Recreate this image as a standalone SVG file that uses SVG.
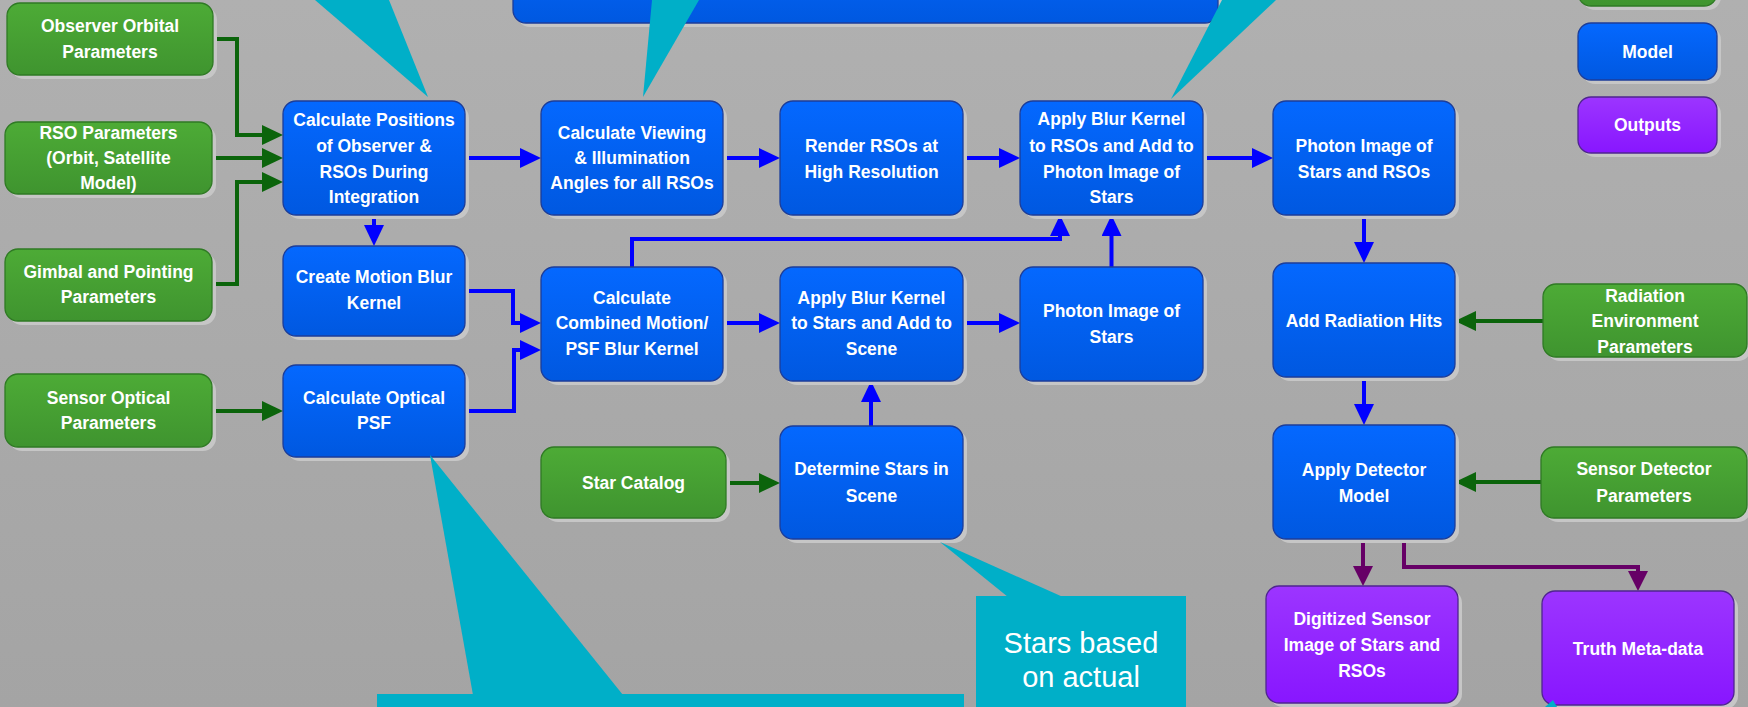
<svg xmlns="http://www.w3.org/2000/svg" width="1748" height="707" viewBox="0 0 1748 707">
<defs>
<linearGradient id="bg" x1="0" y1="0" x2="0" y2="1"><stop offset="0" stop-color="#b0b0b0"/><stop offset="1" stop-color="#a4a4a4"/></linearGradient>
<linearGradient id="gBlue" x1="0" y1="0" x2="0" y2="1"><stop offset="0" stop-color="#0468ff"/><stop offset="1" stop-color="#0058e0"/></linearGradient>
<linearGradient id="gGreen" x1="0" y1="0" x2="0" y2="1"><stop offset="0" stop-color="#4dab36"/><stop offset="1" stop-color="#3f942f"/></linearGradient>
<linearGradient id="gPurple" x1="0" y1="0" x2="0" y2="1"><stop offset="0" stop-color="#9c35ff"/><stop offset="1" stop-color="#8816ff"/></linearGradient>
<marker id="aB" viewBox="0 0 21 20" markerWidth="21" markerHeight="20" refX="13" refY="10" orient="auto" markerUnits="userSpaceOnUse"><path d="M0,0 L21,10 L0,20 z" fill="#0000ff"/></marker>
<marker id="aG" viewBox="0 0 21 20" markerWidth="21" markerHeight="20" refX="13" refY="10" orient="auto" markerUnits="userSpaceOnUse"><path d="M0,0 L21,10 L0,20 z" fill="#0b640b"/></marker>
<marker id="aP" viewBox="0 0 20 20" markerWidth="20" markerHeight="20" refX="12" refY="10" orient="auto" markerUnits="userSpaceOnUse"><path d="M0,0 L20,10 L0,20 z" fill="#660066"/></marker>
</defs>
<style>
.sh{fill:#c6c6c6}
.blue{fill:url(#gBlue);stroke:#1c3d99;stroke-width:1.3}
.green{fill:url(#gGreen);stroke:#2f7a24;stroke-width:1.3}
.purple{fill:url(#gPurple);stroke:#4f2590;stroke-width:1.3}
.t{font-family:"Liberation Sans",Arial,sans-serif;font-weight:bold;font-size:17.5px;fill:#ffffff;text-anchor:middle}
.ct{font-family:"Liberation Sans",Arial,sans-serif;font-size:29px;fill:#ffffff;text-anchor:middle}
.cB{fill:none;stroke:#0000ff;stroke-width:4;marker-end:url(#aB)}
.cG{fill:none;stroke:#0b640b;stroke-width:4;marker-end:url(#aG)}
.cP{fill:none;stroke:#660066;stroke-width:4;marker-end:url(#aP)}
.call{fill:#00afc8}
</style>
<rect x="0" y="0" width="1748" height="707" fill="url(#bg)"/>

<!-- top off-screen box -->
<g id="top-model-box">
<rect class="sh" x="517" y="-60" width="705" height="87" rx="13"/>
<rect class="blue" x="513" y="-60" width="705" height="83" rx="13"/>
</g>
<g id="legend-inputs">
<rect class="sh" x="1582" y="-60" width="139" height="70" rx="13"/>
<rect class="green" x="1578" y="-60" width="139" height="66" rx="13"/>
</g>
<g id="legend-model">
<rect class="sh" x="1582" y="27" width="139" height="57" rx="13"/>
<rect class="blue" x="1578" y="23" width="139" height="57" rx="13"/>
<text class="t" x="1647.5" y="58">Model</text>
</g>
<g id="legend-outputs">
<rect class="sh" x="1582" y="101" width="139" height="56" rx="13"/>
<rect class="purple" x="1578" y="97" width="139" height="56" rx="13"/>
<text class="t" x="1647.5" y="131">Outputs</text>
</g>

<g id="connectors">
<path class="cB" d="M465,158 H533"/>
<path class="cB" d="M723,158 H772"/>
<path class="cB" d="M963,158 H1012"/>
<path class="cB" d="M1203,158 H1265"/>
<path class="cB" d="M374,215 V238"/>
<path class="cB" d="M465,291 H513 V323 H533"/>
<path class="cB" d="M465,411 H514 V350 H533"/>
<path class="cB" d="M723,323 H772"/>
<path class="cB" d="M963,323 H1012"/>
<path class="cB" d="M1111.5,267 V223"/>
<path class="cB" d="M632,267 V239 H1060 V223"/>
<path class="cB" d="M871,426 V389"/>
<path class="cB" d="M1364,215 V255"/>
<path class="cB" d="M1364,377 V417"/>
<path class="cG" d="M213,39 H237 V135 H275"/>
<path class="cG" d="M212,158 H275"/>
<path class="cG" d="M212,284 H237 V182 H275"/>
<path class="cG" d="M212,411 H275"/>
<path class="cG" d="M726,483 H772"/>
<path class="cG" d="M1543,321 H1463"/>
<path class="cG" d="M1541,482 H1463"/>
<path class="cP" d="M1363,539 V578"/>
<path class="cP" d="M1404,539 V567 H1638 V583"/>
</g>

<g id="obs-orbital">
<rect class="sh" x="11" y="7" width="206" height="72" rx="13"/>
<rect class="green" x="7" y="3" width="206" height="72" rx="13"/>
<text class="t" x="110" y="32">Observer Orbital</text>
<text class="t" x="110" y="58">Parameters</text>
</g>
<g id="rso-params">
<rect class="sh" x="9" y="126" width="207" height="72" rx="13"/>
<rect class="green" x="5" y="122" width="207" height="72" rx="13"/>
<text class="t" x="108.5" y="139">RSO Parameters</text>
<text class="t" x="108.5" y="164">(Orbit, Satellite</text>
<text class="t" x="108.5" y="189">Model)</text>
</g>
<g id="gimbal">
<rect class="sh" x="9" y="253" width="207" height="72" rx="13"/>
<rect class="green" x="5" y="249" width="207" height="72" rx="13"/>
<text class="t" x="108.5" y="278">Gimbal and Pointing</text>
<text class="t" x="108.5" y="303">Parameters</text>
</g>
<g id="sensor-optical">
<rect class="sh" x="9" y="378" width="207" height="73" rx="13"/>
<rect class="green" x="5" y="374" width="207" height="73" rx="13"/>
<text class="t" x="108.5" y="404">Sensor Optical</text>
<text class="t" x="108.5" y="429">Parameters</text>
</g>
<g id="star-catalog">
<rect class="sh" x="545" y="451" width="185" height="71" rx="13"/>
<rect class="green" x="541" y="447" width="185" height="71" rx="13"/>
<text class="t" x="633.5" y="489">Star Catalog</text>
</g>
<g id="radiation-env">
<rect class="sh" x="1547" y="288" width="204" height="73" rx="13"/>
<rect class="green" x="1543" y="284" width="204" height="73" rx="13"/>
<text class="t" x="1645" y="302">Radiation</text>
<text class="t" x="1645" y="327">Environment</text>
<text class="t" x="1645" y="353">Parameters</text>
</g>
<g id="sensor-detector">
<rect class="sh" x="1545" y="451" width="206" height="71" rx="13"/>
<rect class="green" x="1541" y="447" width="206" height="71" rx="13"/>
<text class="t" x="1644" y="475">Sensor Detector</text>
<text class="t" x="1644" y="502">Parameters</text>
</g>

<g id="calc-positions">
<rect class="sh" x="287" y="105" width="182" height="114" rx="13"/>
<rect class="blue" x="283" y="101" width="182" height="114" rx="13"/>
<text class="t" x="374" y="126">Calculate Positions</text>
<text class="t" x="374" y="152">of Observer &amp;</text>
<text class="t" x="374" y="178">RSOs During</text>
<text class="t" x="374" y="203">Integration</text>
</g>
<g id="motion-blur">
<rect class="sh" x="287" y="250" width="182" height="90" rx="13"/>
<rect class="blue" x="283" y="246" width="182" height="90" rx="13"/>
<text class="t" x="374" y="283">Create Motion Blur</text>
<text class="t" x="374" y="309">Kernel</text>
</g>
<g id="optical-psf">
<rect class="sh" x="287" y="369" width="182" height="92" rx="13"/>
<rect class="blue" x="283" y="365" width="182" height="92" rx="13"/>
<text class="t" x="374" y="404">Calculate Optical</text>
<text class="t" x="374" y="429">PSF</text>
</g>
<g id="calc-viewing">
<rect class="sh" x="545" y="105" width="182" height="114" rx="13"/>
<rect class="blue" x="541" y="101" width="182" height="114" rx="13"/>
<text class="t" x="632" y="139">Calculate Viewing</text>
<text class="t" x="632" y="164">&amp; Illumination</text>
<text class="t" x="632" y="189">Angles for all RSOs</text>
</g>
<g id="render-rsos">
<rect class="sh" x="784" y="105" width="183" height="114" rx="13"/>
<rect class="blue" x="780" y="101" width="183" height="114" rx="13"/>
<text class="t" x="871.5" y="152">Render RSOs at</text>
<text class="t" x="871.5" y="178">High Resolution</text>
</g>
<g id="apply-rsos">
<rect class="sh" x="1024" y="105" width="183" height="114" rx="13"/>
<rect class="blue" x="1020" y="101" width="183" height="114" rx="13"/>
<text class="t" x="1111.5" y="125">Apply Blur Kernel</text>
<text class="t" x="1111.5" y="152">to RSOs and Add to</text>
<text class="t" x="1111.5" y="178">Photon Image of</text>
<text class="t" x="1111.5" y="203">Stars</text>
</g>
<g id="combined-kernel">
<rect class="sh" x="545" y="271" width="182" height="114" rx="13"/>
<rect class="blue" x="541" y="267" width="182" height="114" rx="13"/>
<text class="t" x="632" y="304">Calculate</text>
<text class="t" x="632" y="329">Combined Motion/</text>
<text class="t" x="632" y="355">PSF Blur Kernel</text>
</g>
<g id="apply-stars">
<rect class="sh" x="784" y="271" width="183" height="114" rx="13"/>
<rect class="blue" x="780" y="267" width="183" height="114" rx="13"/>
<text class="t" x="871.5" y="304">Apply Blur Kernel</text>
<text class="t" x="871.5" y="329">to Stars and Add to</text>
<text class="t" x="871.5" y="355">Scene</text>
</g>
<g id="photon-stars">
<rect class="sh" x="1024" y="271" width="183" height="114" rx="13"/>
<rect class="blue" x="1020" y="267" width="183" height="114" rx="13"/>
<text class="t" x="1111.5" y="317">Photon Image of</text>
<text class="t" x="1111.5" y="343">Stars</text>
</g>
<g id="determine-stars">
<rect class="sh" x="784" y="430" width="183" height="113" rx="13"/>
<rect class="blue" x="780" y="426" width="183" height="113" rx="13"/>
<text class="t" x="871.5" y="475">Determine Stars in</text>
<text class="t" x="871.5" y="502">Scene</text>
</g>
<g id="photon-stars-rsos">
<rect class="sh" x="1277" y="105" width="182" height="114" rx="13"/>
<rect class="blue" x="1273" y="101" width="182" height="114" rx="13"/>
<text class="t" x="1364" y="152">Photon Image of</text>
<text class="t" x="1364" y="178">Stars and RSOs</text>
</g>
<g id="radiation-hits">
<rect class="sh" x="1277" y="267" width="182" height="114" rx="13"/>
<rect class="blue" x="1273" y="263" width="182" height="114" rx="13"/>
<text class="t" x="1364" y="327">Add Radiation Hits</text>
</g>
<g id="detector-model">
<rect class="sh" x="1277" y="429" width="182" height="114" rx="13"/>
<rect class="blue" x="1273" y="425" width="182" height="114" rx="13"/>
<text class="t" x="1364" y="476">Apply Detector</text>
<text class="t" x="1364" y="502">Model</text>
</g>
<g id="digitized-image">
<rect class="sh" x="1270" y="590" width="192" height="117" rx="13"/>
<rect class="purple" x="1266" y="586" width="192" height="117" rx="13"/>
<text class="t" x="1362" y="625">Digitized Sensor</text>
<text class="t" x="1362" y="651">Image of Stars and</text>
<text class="t" x="1362" y="677">RSOs</text>
</g>
<g id="truth-metadata">
<rect class="sh" x="1546" y="595" width="192" height="114" rx="13"/>
<rect class="purple" x="1542" y="591" width="192" height="114" rx="13"/>
<text class="t" x="1638" y="655">Truth Meta-data</text>
</g>

<g id="callouts">
<polygon class="call" points="315,0 389,0 428,97"/>
<polygon class="call" points="652,0 699,0 643,97"/>
<polygon class="call" points="1222,0 1276,0 1171,99"/>
<polygon class="call" points="430,455 473,695 623,695"/>
<rect class="call" x="377" y="694" width="587" height="30"/>
<polygon class="call" points="940,542 1008,597 1063,597"/>
<rect class="call" x="976" y="596" width="210" height="130"/>
<text class="ct" x="1081" y="653">Stars based</text>
<text class="ct" x="1081" y="687">on actual</text>
<polygon class="call" points="1545,707 1553,700 1557,707"/>
</g>
</svg>
